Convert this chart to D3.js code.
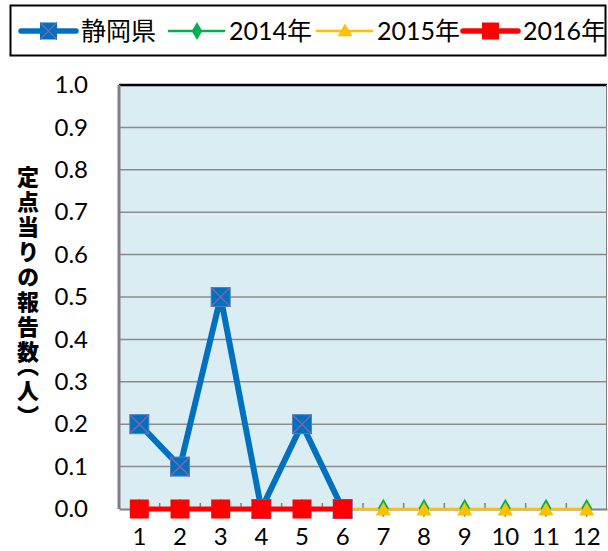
<!DOCTYPE html>
<html>
<head>
<meta charset="utf-8">
<script src="https://cdn.jsdelivr.net/npm/d3@7"></script>
<style>
  body { margin: 0; background: #fff; }
  svg { display: block; font-family: Lato, "Noto Sans CJK JP", sans-serif; }
</style>
</head>
<body>
<svg id="chart" width="608" height="551"></svg>
<script>
const months = [1, 2, 3, 4, 5, 6, 7, 8, 9, 10, 11, 12];
const shizuoka = [0.2, 0.1, 0.5, 0, 0.2, 0];
const y2014 = [0, 0, 0, 0, 0, 0, 0, 0, 0, 0, 0, 0];
const y2015 = [0, 0, 0, 0, 0, 0, 0, 0, 0, 0, 0, 0];
const y2016 = [0, 0, 0, 0, 0, 0];
const yTicks = [0, 0.1, 0.2, 0.3, 0.4, 0.5, 0.6, 0.7, 0.8, 0.9, 1.0];
const seriesNames = ["静岡県", "2014年", "2015年", "2016年"];
const yTitle = "定点当りの報告数（人）";

const plot = { left: 119, top: 85, right: 607, bottom: 509 };
const latinFont = "Lato, 'Noto Sans CJK JP', sans-serif";
const jpFont = "'Noto Sans CJK JP', sans-serif";

const svg = d3.select("#chart");

const x = d3.scaleBand().domain(months).range([plot.left, plot.right]);
const cx = (m) => x(m) + x.bandwidth() / 2;
const y = d3.scaleLinear().domain([0, 1]).range([plot.bottom, plot.top]);

// plot background
svg.append("rect")
  .attr("x", plot.left).attr("y", plot.top)
  .attr("width", plot.right - plot.left).attr("height", plot.bottom - plot.top)
  .attr("fill", "#daedf3");

// gridlines
svg.append("g")
  .selectAll("line")
  .data(yTicks.slice(1))
  .enter()
  .append("line")
  .attr("x1", plot.left).attr("x2", plot.right)
  .attr("y1", (d) => y(d)).attr("y2", (d) => y(d))
  .attr("stroke", "#8c8c8c")
  .attr("stroke-width", 1.5);

// borders
svg.append("line")
  .attr("x1", plot.left).attr("x2", plot.right)
  .attr("y1", plot.top).attr("y2", plot.top)
  .attr("stroke", "#000").attr("stroke-width", 2.5);
svg.append("line")
  .attr("x1", plot.left).attr("x2", plot.left)
  .attr("y1", plot.top).attr("y2", plot.bottom)
  .attr("stroke", "#808080").attr("stroke-width", 3);
svg.append("line")
  .attr("x1", plot.right - 0.5).attr("x2", plot.right - 0.5)
  .attr("y1", plot.top).attr("y2", plot.bottom)
  .attr("stroke", "#808080").attr("stroke-width", 1);

// x axis
const xAxis = svg.append("g")
  .attr("transform", "translate(0," + plot.bottom + ")")
  .call(d3.axisBottom(x).tickSize(0).tickPadding(19))
  .call((g) => g.select(".domain").attr("stroke", "#808080").attr("stroke-width", 2));
xAxis.selectAll("text")
  .attr("font-size", 24)
  .attr("fill", "#000")
  .style("font-family", latinFont);

// tick marks between categories (inward)
svg.append("g")
  .selectAll("line")
  .data(months.slice(1))
  .enter()
  .append("line")
  .attr("x1", (d) => x(d)).attr("x2", (d) => x(d))
  .attr("y1", plot.bottom).attr("y2", plot.bottom - 6)
  .attr("stroke", "#808080").attr("stroke-width", 1.5);

// y axis labels
svg.append("g")
  .attr("transform", "translate(" + plot.left + ",0)")
  .call(d3.axisLeft(y).tickValues(yTicks).tickFormat(d3.format(".1f")).tickSize(0).tickPadding(31))
  .call((g) => g.select(".domain").remove())
  .selectAll("text")
  .attr("font-size", 24)
  .attr("fill", "#000")
  .style("font-family", latinFont);

// y title (vertical)
svg.append("text")
  .attr("x", 28)
  .attr("y", 166)
  .attr("font-size", 22)
  .attr("font-weight", "900")
  .attr("font-family", jpFont)
  .style("writing-mode", "vertical-rl")
  .style("text-orientation", "upright")
  .style("letter-spacing", "3px")
  .style("font-feature-settings", "'vhal' 1")
  .text(yTitle);

// lines
const line = d3.line().x((d, i) => cx(months[i])).y((d) => y(d));

svg.append("path").datum(y2014)
  .attr("fill", "none").attr("stroke", "#00b050").attr("stroke-width", 2).attr("d", line);
svg.append("path").datum(y2015)
  .attr("fill", "none").attr("stroke", "#ffc000").attr("stroke-width", 2.5).attr("d", line);

// 2014 diamonds
svg.append("g").selectAll("path").data(y2014).enter().append("path")
  .attr("transform", (d, i) => "translate(" + cx(months[i]) + "," + (y(d) - 1) + ")")
  .attr("d", d3.symbol().type(d3.symbolDiamond).size(100))
  .attr("fill", "#00b050");
// 2015 triangles
svg.append("g").selectAll("path").data(y2015).enter().append("path")
  .attr("transform", (d, i) => "translate(" + cx(months[i]) + "," + (y(d) + 2) + ")")
  .attr("d", d3.symbol().type(d3.symbolTriangle).size(100))
  .attr("fill", "#ffc000");

// 静岡県
svg.append("path").datum(shizuoka)
  .attr("fill", "none").attr("stroke", "#0070c0").attr("stroke-width", 6)
  .attr("stroke-linejoin", "round").attr("d", line);
const ms = 19;
const blue = svg.append("g").selectAll("g").data(shizuoka).enter().append("g")
  .attr("transform", (d, i) => "translate(" + cx(months[i]) + "," + y(d) + ")");
blue.append("rect")
  .attr("x", -ms / 2).attr("y", -ms / 2).attr("width", ms).attr("height", ms)
  .attr("fill", "#0070c0").attr("stroke", "#4f81bd").attr("stroke-width", 1);
blue.append("path")
  .attr("d", "M" + (-ms / 2) + "," + (-ms / 2) + "L" + ms / 2 + "," + ms / 2 + "M" + ms / 2 + "," + (-ms / 2) + "L" + (-ms / 2) + "," + ms / 2)
  .attr("stroke", "#8064a2").attr("stroke-width", 1.5);

// 2016
svg.append("path").datum(y2016)
  .attr("fill", "none").attr("stroke", "#ff0000").attr("stroke-width", 5).attr("d", line);
svg.append("g").selectAll("rect").data(y2016).enter().append("rect")
  .attr("x", (d, i) => cx(months[i]) - ms / 2)
  .attr("y", (d) => y(d) - ms / 2)
  .attr("width", ms).attr("height", ms)
  .attr("fill", "#ff0000");

// legend
svg.append("rect")
  .attr("x", 10.5).attr("y", 5.5).attr("width", 595).attr("height", 50)
  .attr("fill", "#fff").attr("stroke", "#000").attr("stroke-width", 2);

const legendItems = [
  { name: seriesNames[0], x: 21, color: "#0070c0", w: 5.5, marker: "bluesq" },
  { name: seriesNames[1], x: 169, color: "#00b050", w: 2.5, marker: "diamond" },
  { name: seriesNames[2], x: 317, color: "#ffc000", w: 2.5, marker: "triangle" },
  { name: seriesNames[3], x: 463, color: "#ff0000", w: 5.5, marker: "redsq" }
];
const ly = 31;
const lg = svg.append("g").selectAll("g").data(legendItems).enter().append("g")
  .attr("transform", (d) => "translate(" + d.x + "," + ly + ")");
lg.append("line")
  .attr("x1", 0).attr("x2", 55).attr("y1", 0).attr("y2", 0)
  .attr("stroke", (d) => d.color).attr("stroke-width", (d) => d.w)
  .attr("stroke-linecap", "round");
lg.each(function (d) {
  const g = d3.select(this);
  if (d.marker === "bluesq" || d.marker === "redsq") {
    g.append("rect").attr("x", 19).attr("y", -8.5).attr("width", 17).attr("height", 17)
      .attr("fill", d.color);
    if (d.marker === "bluesq") {
      g.append("path").attr("d", "M19,-8.5L36,8.5M36,-8.5L19,8.5")
        .attr("stroke", "#8064a2").attr("stroke-width", 1.2);
    }
  } else {
    g.append("path")
      .attr("transform", "translate(28," + (d.marker === "triangle" ? 1 : 0) + ")")
      .attr("d", d3.symbol().type(d.marker === "diamond" ? d3.symbolDiamond : d3.symbolTriangle).size(95))
      .attr("fill", d.color);
  }
});
lg.append("text")
  .attr("x", 60).attr("y", 8.5)
  .attr("font-size", 25)
  .attr("font-family", latinFont)
  .attr("fill", "#000")
  .text((d) => d.name);
</script>
</body>
</html>
